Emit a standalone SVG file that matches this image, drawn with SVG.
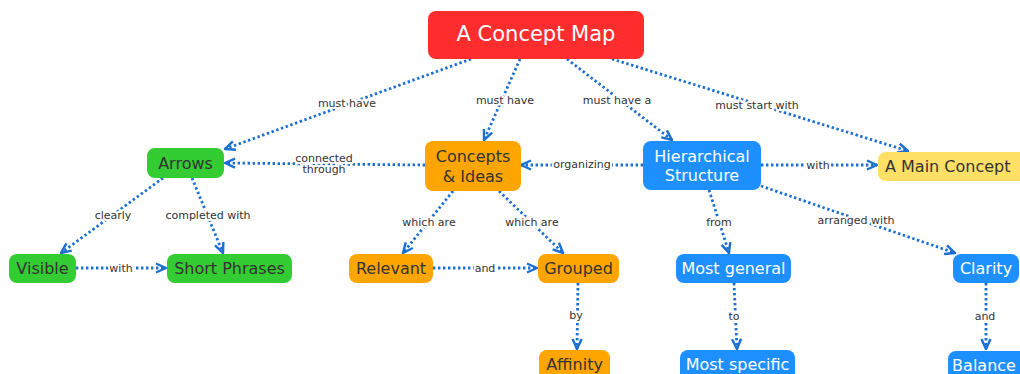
<svg xmlns="http://www.w3.org/2000/svg" width="1020" height="374" viewBox="0 0 1020 374">
<style>
.n rect{rx:8;ry:8}
.t{font-family:"DejaVu Sans",Verdana,sans-serif;font-size:16px;text-anchor:middle;dominant-baseline:central;fill:#333}
.w{fill:#fff}
.red{fill:#ff2d2d}.grn{fill:#33cc33}.org{fill:#ffa500}.blu{fill:#1e8fff}.yel{fill:#ffe066}
.e path{fill:none;stroke:#1b6fd2;stroke-width:2.8;stroke-dasharray:2.4 2.6;marker-end:url(#ah)}
.l{font-family:"DejaVu Sans",Verdana,sans-serif;font-size:11px;text-anchor:middle;dominant-baseline:central;fill:#333;stroke:#fff;stroke-width:4;paint-order:stroke;stroke-linejoin:round}
</style>
<defs>
<marker id="ah" viewBox="0 0 12 12" refX="11" refY="6" markerWidth="12" markerHeight="12" markerUnits="userSpaceOnUse" orient="auto">
<path d="M1,1.5 L11,6 L1,10.5" fill="none" stroke="#1b6fd2" stroke-width="2.4" stroke-linejoin="miter"/>
</marker>
</defs>
<rect width="1020" height="374" fill="#fff"/>
<g class="e" id="connectors">
<path d="M471,59 L225,149"/>
<path d="M520,59 L484,140"/>
<path d="M567,59 L672,140"/>
<path d="M612,59 L908,151"/>
<path d="M425,165 L225,163"/>
<path d="M643,165 L521,165"/>
<path d="M761,165 L877,165"/>
<path d="M163,178 L61,253"/>
<path d="M192,178 L223,253"/>
<path d="M76,268 L166,268"/>
<path d="M453,191 L403,253"/>
<path d="M499,191 L563,253"/>
<path d="M433,268 L537,268"/>
<path d="M578,283 L577,349"/>
<path d="M709,190 L729,253"/>
<path d="M761,186 L955,253"/>
<path d="M734,283 L737,349"/>
<path d="M986,283 L986,349"/>
<text class="l" x="347" y="103">must have</text>
<text class="l" x="505" y="100">must have</text>
<text class="l" x="617" y="100">must have a</text>
<text class="l" x="757" y="105">must start with</text>
<text class="l" x="324" y="158">connected</text>
<text class="l" x="324" y="169">through</text>
<text class="l" x="582" y="164">organizing</text>
<text class="l" x="818" y="165">with</text>
<text class="l" x="113" y="215">clearly</text>
<text class="l" x="208" y="215">completed with</text>
<text class="l" x="121" y="268">with</text>
<text class="l" x="429" y="222">which are</text>
<text class="l" x="532" y="222">which are</text>
<text class="l" x="485" y="268">and</text>
<text class="l" x="576" y="315">by</text>
<text class="l" x="719" y="222">from</text>
<text class="l" x="856" y="220">arranged with</text>
<text class="l" x="734" y="316">to</text>
<text class="l" x="985" y="316">and</text>
</g>
<g class="n" id="root"><rect class="red" x="428" y="11" width="216" height="48"/><text class="t w" x="536" y="34" style="font-size:21px">A Concept Map</text></g>
<g class="n" id="arrows"><rect class="grn" x="147" y="148" width="77" height="30"/><text class="t" x="185.5" y="163">Arrows</text></g>
<g class="n" id="concepts"><rect class="org" x="425" y="141" width="96" height="50"/><text class="t" x="473" y="156">Concepts</text><text class="t" x="473" y="176">&amp; Ideas</text></g>
<g class="n" id="hier"><rect class="blu" x="643" y="141" width="118" height="49"/><text class="t w" x="702" y="156">Hierarchical</text><text class="t w" x="702" y="175">Structure</text></g>
<g class="n" id="mainconcept"><rect class="yel" x="878" y="152" width="150" height="29"/><text class="t" x="885" y="166" style="text-anchor:start">A Main Concept</text></g>
<g class="n" id="visible"><rect class="grn" x="9" y="254" width="67" height="29"/><text class="t" x="42.5" y="268.5">Visible</text></g>
<g class="n" id="short"><rect class="grn" x="167" y="254" width="125" height="29"/><text class="t" x="229.5" y="268.5">Short Phrases</text></g>
<g class="n" id="relevant"><rect class="org" x="349" y="254" width="84" height="29"/><text class="t" x="391" y="268.5">Relevant</text></g>
<g class="n" id="grouped"><rect class="org" x="538" y="254" width="81" height="29"/><text class="t" x="578.5" y="268.5">Grouped</text></g>
<g class="n" id="general"><rect class="blu" x="676" y="254" width="115" height="29"/><text class="t w" x="733.5" y="268.5">Most general</text></g>
<g class="n" id="clarity"><rect class="blu" x="953" y="254" width="66" height="29"/><text class="t w" x="986" y="268.5">Clarity</text></g>
<g class="n" id="affinity"><rect class="org" x="539" y="350" width="71" height="34"/><text class="t" x="574.5" y="364">Affinity</text></g>
<g class="n" id="specific"><rect class="blu" x="680" y="350" width="115" height="34"/><text class="t w" x="737.5" y="364">Most specific</text></g>
<g class="n" id="balance"><rect class="blu" x="948" y="351" width="80" height="33"/><text class="t w" x="984" y="365">Balance</text></g>
</svg>
